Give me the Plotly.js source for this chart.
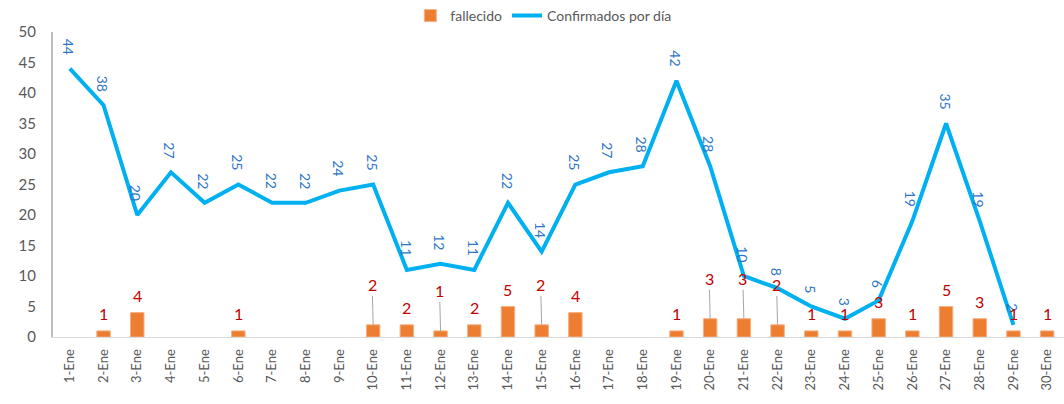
<!DOCTYPE html>
<html>
<head>
<meta charset="utf-8">
<script src="https://cdn.plot.ly/plotly-3.0.1.min.js"></script>
<style>html,body{margin:0;padding:0;background:#fff;}#chart{width:1064px;height:404px;}</style>
</head>
<body>
<div id="chart"></div>
<script>
const dias = ["1-Ene","2-Ene","3-Ene","4-Ene","5-Ene","6-Ene","7-Ene","8-Ene","9-Ene","10-Ene",
  "11-Ene","12-Ene","13-Ene","14-Ene","15-Ene","16-Ene","17-Ene","18-Ene","19-Ene","20-Ene",
  "21-Ene","22-Ene","23-Ene","24-Ene","25-Ene","26-Ene","27-Ene","28-Ene","29-Ene","30-Ene"];
const fallecido = [null,1,4,null,null,1,null,null,null,2,
  2,1,2,5,2,4,null,null,1,3,
  3,2,1,1,3,1,5,3,1,1];
const confirmados = [44,38,20,27,22,25,22,22,24,25,
  11,12,11,22,14,25,27,28,42,28,
  10,8,5,3,6,19,35,19,2,null];

// labels drawn with a leader line (moved up in the original)
const leaderDays = ["10-Ene","12-Ene","15-Ene","20-Ene","21-Ene","22-Ene"];

const FONT = "Lato, 'Noto Sans', sans-serif";

const traces = [
  {type:"bar", name:"fallecido", x:dias, y:fallecido,
   marker:{color:"#ED7D31", line:{color:"#F4B183", width:1}}, width:0.4, hoverinfo:"x+y"},
  {type:"scatter", mode:"lines", name:"Confirmados por día", x:dias, y:confirmados,
   line:{color:"#00B0F0", width:4}, connectgaps:false}
];

const annotations = [];
dias.forEach((d,i)=>{
  const v = confirmados[i];
  if (v !== null && v !== undefined) {
    const s = String(v);
    annotations.push({x:d, y:v, xref:"x", yref:"y", text:s, showarrow:false,
      textangle:90, yshift:12 + 5*s.length, xshift:-1,
      font:{family:FONT, size:14, color:"#2E75C6"}});
  }
  const f = fallecido[i];
  if (f !== null && f !== undefined && f > 0) {
    if (leaderDays.includes(d)) {
      annotations.push({x:d, y:f, xref:"x", yref:"y", text:String(f), showarrow:true,
        arrowhead:0, arrowwidth:1, arrowcolor:"#A6A6A6", ax:-1, ay:-40, standoff:0,
        font:{family:FONT, size:16, color:"#C00000"}});
    } else {
      annotations.push({x:d, y:f, xref:"x", yref:"y", text:String(f), showarrow:false,
        yshift:17, font:{family:FONT, size:16, color:"#C00000"}});
    }
  }
});

const layout = {
  width:1064, height:404,
  margin:{l:53, r:0, t:27, b:67},
  paper_bgcolor:"#ffffff", plot_bgcolor:"rgba(0,0,0,0)",
  font:{family:FONT, color:"#595959"},
  showlegend:true,
  legend:{orientation:"h", x:0.485, xanchor:"center", y:1.0, yanchor:"bottom",
    font:{family:FONT, size:14, color:"#595959"}, traceorder:"normal"},
  bargap:0.6,
  xaxis:{type:"category", tickangle:-90, tickfont:{family:FONT, size:13, color:"#595959"},
    showline:true, linecolor:"#D9D9D9", linewidth:1, ticks:"", showgrid:false,
    zeroline:false, range:[-0.5,29.5], fixedrange:true, ticklabelstandoff:6},
  yaxis:{range:[0,50], dtick:5, tick0:0, showgrid:false, zeroline:false,
    showline:true, linecolor:"#BFBFBF", linewidth:2, ticks:"",
    tickfont:{family:FONT, size:15, color:"#595959"}, ticklabelstandoff:12},
  annotations:annotations
};

Plotly.newPlot("chart", traces, layout, {displayModeBar:false, staticPlot:true});
</script>
</body>
</html>
